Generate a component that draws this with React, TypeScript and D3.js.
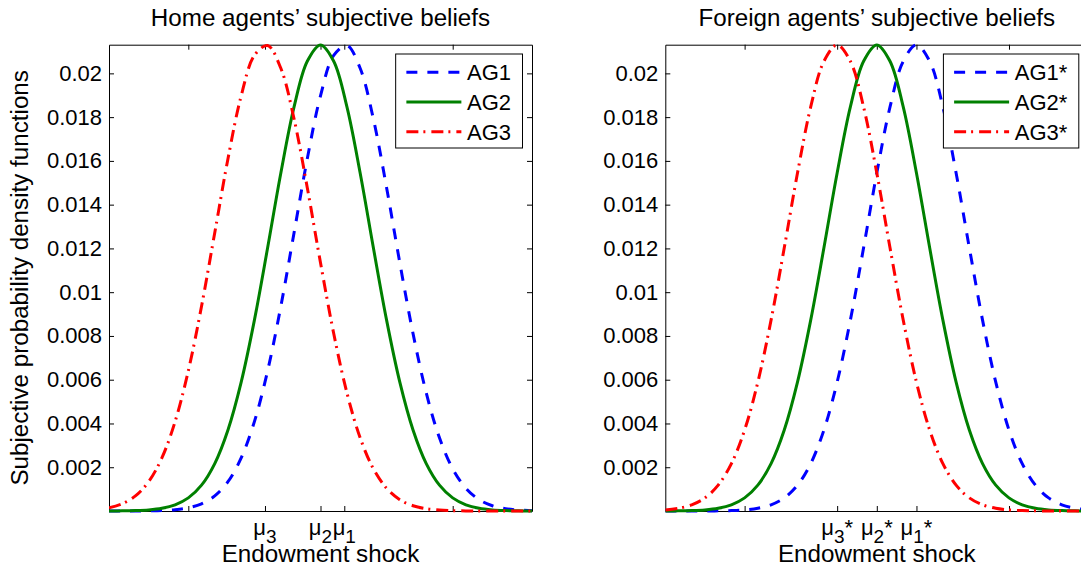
import React, { useEffect, useRef } from "react";
import * as d3 from "d3";

// shared sample points along the endowment-shock axis
const xGrid = [
  -8, -7.5, -7, -6.5, -6, -5.5, -5, -4.5, -4, -3.5, -3, -2.5, -2, -1.5, -1, -0.5,
  0, 0.5, 1, 1.5, 2, 2.5, 3, 3.5, 4, 4.5, 5, 5.5, 6, 6.5, 7, 7.5, 8
];

// home agents (left panel)
const homeAG1 = [
  0.0000003, 0.0000009, 0.0000029, 0.0000085, 0.0000237, 0.0000613, 0.0001475, 0.000331,
  0.00069, 0.00134, 0.002425, 0.004085, 0.006406, 0.009354, 0.012718, 0.016098,
  0.018973, 0.020819, 0.02127, 0.020232, 0.017919, 0.014776, 0.011344, 0.008109,
  0.005397, 0.003344, 0.00193, 0.001037, 0.000518, 0.000241, 0.0001046, 0.0000422, 0.0000159
];
const homeAG2 = [
  0.0000023, 0.0000069, 0.0000194, 0.0000509, 0.0001244, 0.000283, 0.000599, 0.00118,
  0.002166, 0.003701, 0.005888, 0.008722, 0.012028, 0.015445, 0.018465, 0.020553,
  0.0213, 0.020553, 0.018465, 0.015445, 0.012028, 0.008722, 0.005888, 0.003701,
  0.002166, 0.00118, 0.000599, 0.000283, 0.0001244, 0.0000509, 0.0000194, 0.0000069, 0.0000023
];
const homeAG3 = [
  0.0001475, 0.000331, 0.00069, 0.00134, 0.002425, 0.004085, 0.006406, 0.009354,
  0.012718, 0.016098, 0.018973, 0.020819, 0.02127, 0.020232, 0.017919, 0.014776,
  0.011344, 0.008109, 0.005397, 0.003344, 0.00193, 0.001037, 0.000518, 0.000241,
  0.0001046, 0.0000422, 0.0000159, 0.0000056, 0.0000018, 0.0000005, 0.0000002, 0.0000001, 0
];

// foreign agents (right panel)
const foreignAG1 = [
  0.0000001, 0.0000002, 0.0000007, 0.0000023, 0.0000069, 0.0000194, 0.0000509, 0.0001244,
  0.000283, 0.000599, 0.00118, 0.002166, 0.003701, 0.005888, 0.008722, 0.012028,
  0.015445, 0.018465, 0.020553, 0.0213, 0.020553, 0.018465, 0.015445, 0.012028,
  0.008722, 0.005888, 0.003701, 0.002166, 0.00118, 0.000599, 0.000283, 0.0001244, 0.0000509
];
const foreignAG2 = [
  0.0000023, 0.0000069, 0.0000194, 0.0000509, 0.0001244, 0.000283, 0.000599, 0.00118,
  0.002166, 0.003701, 0.005888, 0.008722, 0.012028, 0.015445, 0.018465, 0.020553,
  0.0213, 0.020553, 0.018465, 0.015445, 0.012028, 0.008722, 0.005888, 0.003701,
  0.002166, 0.00118, 0.000599, 0.000283, 0.0001244, 0.0000509, 0.0000194, 0.0000069, 0.0000023
];
const foreignAG3 = [
  0.0000509, 0.0001244, 0.000283, 0.000599, 0.00118, 0.002166, 0.003701, 0.005888,
  0.008722, 0.012028, 0.015445, 0.018465, 0.020553, 0.0213, 0.020553, 0.018465,
  0.015445, 0.012028, 0.008722, 0.005888, 0.003701, 0.002166, 0.00118, 0.000599,
  0.000283, 0.0001244, 0.0000509, 0.0000194, 0.0000069, 0.0000023, 0.0000007, 0.0000002, 0.0000001
];

const yTicks = [0.002, 0.004, 0.006, 0.008, 0.01, 0.012, 0.014, 0.016, 0.018, 0.02];
const homeTicks = [-5, -2.1, 0, 0.9, 5];
const homeTickLabels = ["", "μ_3", "μ_2", "μ_1", ""];
const foreignTicks = [-5, -1.5, 0, 1.5, 5];
const foreignTickLabels = ["", "μ_3*", "μ_2*", "μ_1*", ""];
const homeNames = ["AG1", "AG2", "AG3"];
const foreignNames = ["AG1*", "AG2*", "AG3*"];

const FONT = "'Liberation Sans', Arial, Helvetica, sans-serif";
const styles = [
  { color: "#0000ff", dash: "11,10" },
  { color: "#008000", dash: null },
  { color: "#ff0000", dash: "12,5,2,6" }
];

const panels = [
  {
    left: 109,
    title: "Home agents\u2019 subjective beliefs",
    series: [homeAG1, homeAG2, homeAG3],
    names: homeNames,
    ticks: homeTicks,
    tickLabels: homeTickLabels,
    yLabel: true
  },
  {
    left: 665.3,
    title: "Foreign agents\u2019 subjective beliefs",
    series: [foreignAG1, foreignAG2, foreignAG3],
    names: foreignNames,
    ticks: foreignTicks,
    tickLabels: foreignTickLabels,
    yLabel: false
  }
];

export default function App() {
  const ref = useRef<SVGSVGElement>(null);

  useEffect(() => {
    const svg = d3.select(ref.current);
    svg.selectAll("*").remove();

    const plotW = 423;
    const top = 44.7;
    const bottom = 511;
    const tick = 5;
    const labelSize = 24.2;

    const y = d3.scaleLinear().domain([0, 0.02131]).range([bottom, top]);

    panels.forEach((p, pi) => {
      const x = d3.scaleLinear().domain([-8, 8]).range([p.left, p.left + plotW]);
      const g = svg.append("g");

      const styleAxis = (a: any) => {
        a.selectAll("path.domain").attr("stroke", "#000").attr("stroke-width", 1);
        a.selectAll(".tick line").attr("stroke", "#000").attr("stroke-width", 1);
        a.attr("font-family", FONT).attr("font-size", 22);
      };

      g.append("g")
        .attr("transform", `translate(${p.left},0)`)
        .call(
          d3.axisLeft(y).tickValues(yTicks).tickSize(-tick).tickSizeOuter(0).tickPadding(7)
            .tickFormat((d: any) => String(+(+d).toFixed(3)))
        )
        .call(styleAxis)
        .selectAll("text")
        .attr("fill", "#000");

      g.append("g")
        .attr("transform", `translate(${p.left + plotW},0)`)
        .call(d3.axisRight(y).tickValues(yTicks).tickSize(-tick).tickSizeOuter(0).tickFormat(() => ""))
        .call(styleAxis);

      g.append("g")
        .attr("transform", `translate(0,${bottom})`)
        .call(d3.axisBottom(x).tickValues(p.ticks).tickSize(-tick).tickSizeOuter(0).tickFormat(() => ""))
        .call(styleAxis);

      g.append("g")
        .attr("transform", `translate(0,${top})`)
        .call(d3.axisTop(x).tickValues(p.ticks).tickSize(-tick).tickSizeOuter(0).tickFormat(() => ""))
        .call(styleAxis);

      // mu tick labels with subscripts
      p.ticks.forEach((t, i) => {
        const lab = p.tickLabels[i];
        if (!lab) return;
        const m = lab.match(/^(.)_(\d)(\*?)$/);
        if (!m) return;
        const txt = g.append("text")
          .attr("x", x(t))
          .attr("y", 535)
          .attr("text-anchor", "middle")
          .attr("font-family", FONT)
          .attr("font-size", 22)
          .attr("fill", "#000");
        txt.append("tspan").text(m[1]);
        txt.append("tspan").attr("dy", 8).attr("font-size", 19).text(m[2]);
        if (m[3]) txt.append("tspan").attr("dy", -8).text(m[3]);
      });

      g.append("text")
        .attr("x", x(0))
        .attr("y", 562)
        .attr("text-anchor", "middle")
        .attr("font-family", FONT)
        .attr("font-size", labelSize)
        .text("Endowment shock");

      g.append("text")
        .attr("x", x(0))
        .attr("y", 26)
        .attr("text-anchor", "middle")
        .attr("font-family", FONT)
        .attr("font-size", labelSize)
        .text(p.title);

      if (p.yLabel) {
        g.append("text")
          .attr("transform", `translate(28,${(top + bottom) / 2}) rotate(-90)`)
          .attr("text-anchor", "middle")
          .attr("font-family", FONT)
          .attr("font-size", labelSize)
          .text("Subjective probability density functions");
      }

      // curves
      const clipId = `clip${pi}`;
      svg.append("clipPath").attr("id", clipId)
        .append("rect")
        .attr("x", p.left).attr("y", top - 2).attr("width", plotW).attr("height", bottom - top + 4);

      const line = d3.line<number>()
        .x((_, i) => x(xGrid[i]))
        .y((d) => y(d))
        .curve(d3.curveCatmullRom);

      const curves = g.append("g").attr("clip-path", `url(#${clipId})`);
      p.series.forEach((s, si) => {
        curves.append("path")
          .attr("d", line(s))
          .attr("fill", "none")
          .attr("stroke", styles[si].color)
          .attr("stroke-width", 3)
          .attr("stroke-dasharray", styles[si].dash);
      });

      // legend
      const legRight = p.left + plotW - 9.5;
      const legTop = 54;
      const leg = g.append("g");
      const box = leg.append("rect")
        .attr("y", legTop)
        .attr("height", 94)
        .attr("fill", "#fff")
        .attr("stroke", "#000")
        .attr("stroke-width", 1);
      const texts = p.names.map((n, i) =>
        leg.append("text")
          .attr("y", legTop + 18.3 + i * 29.7)
          .attr("dy", "0.36em")
          .attr("font-family", FONT)
          .attr("font-size", 22)
          .text(n)
      );
      const tw = d3.max(texts, (t) => (t.node() as SVGTextElement).getComputedTextLength()) || 44;
      const legLeft = legRight - (10.7 + 55 + 5.6 + tw + 11.5);
      box.attr("x", legLeft).attr("width", legRight - legLeft);
      texts.forEach((t) => t.attr("x", legLeft + 10.7 + 55 + 5.6));
      p.names.forEach((_, i) => {
        leg.append("line")
          .attr("x1", legLeft + 10.7)
          .attr("x2", legLeft + 10.7 + 55)
          .attr("y1", legTop + 18.3 + i * 29.7)
          .attr("y2", legTop + 18.3 + i * 29.7)
          .attr("stroke", styles[i].color)
          .attr("stroke-width", 3)
          .attr("stroke-dasharray", styles[i].dash);
      });
    });
  }, []);

  return (
    <svg
      ref={ref}
      width={1081}
      height={566}
      style={{ position: "absolute", left: 0, top: 0, background: "#fff" }}
    />
  );
}
